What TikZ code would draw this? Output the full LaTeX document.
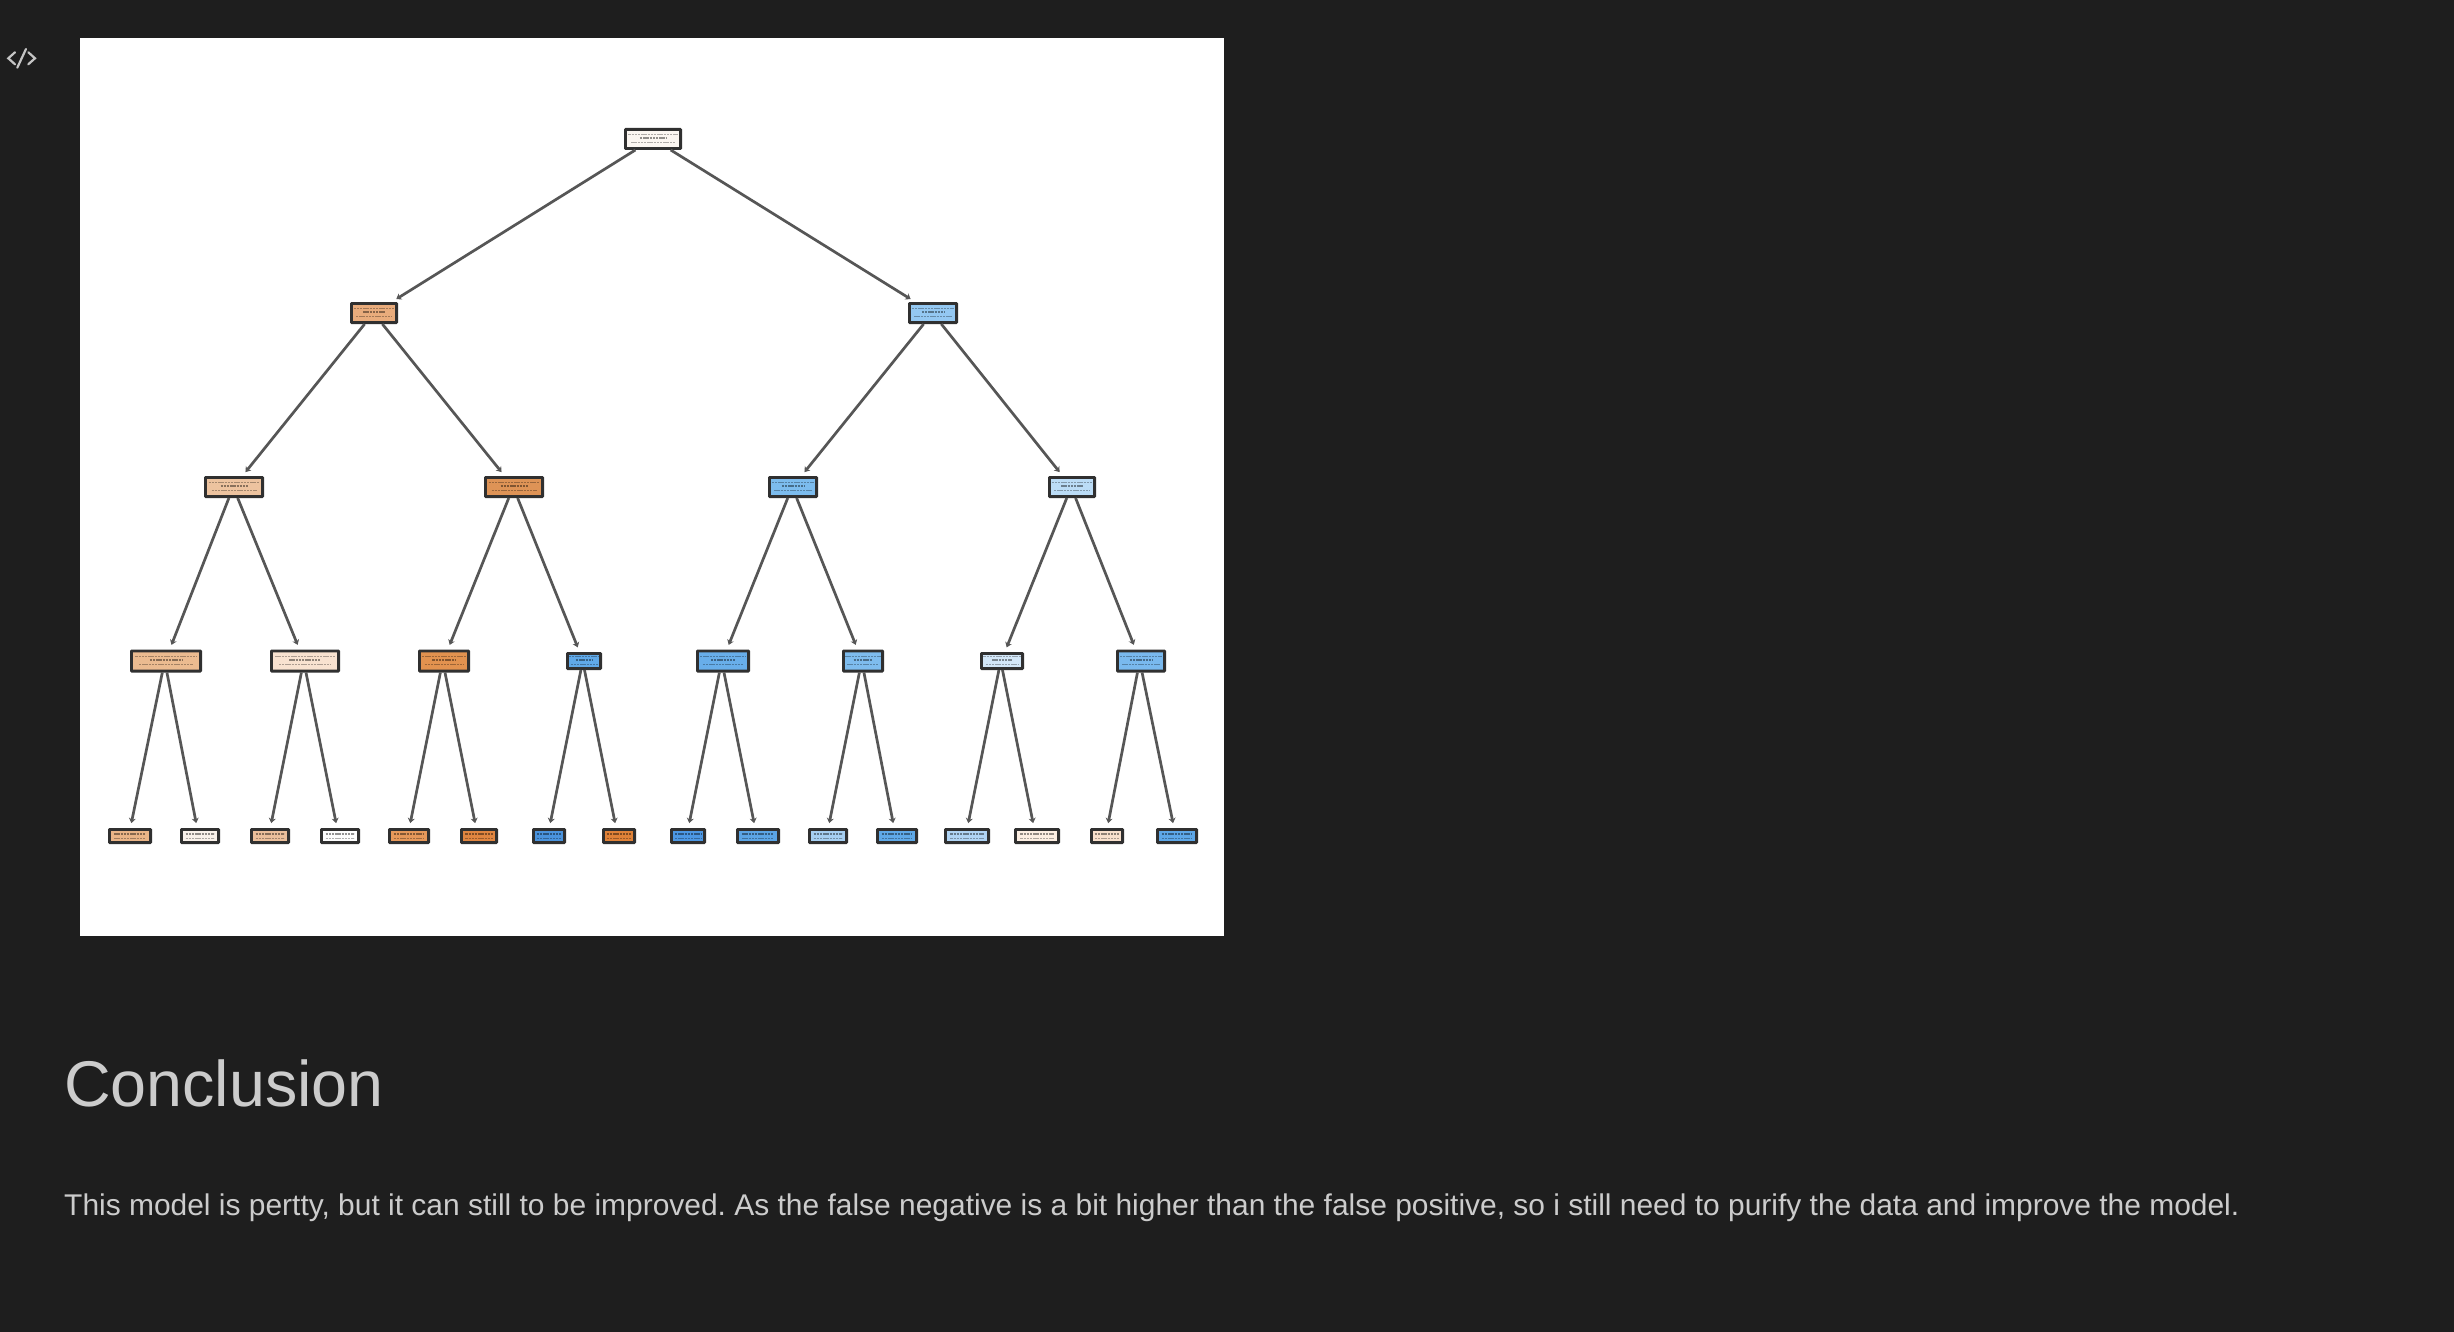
\documentclass[tikz,border=0pt]{standalone}
\usepackage{fontspec}
\setmainfont{Liberation Sans}
\usetikzlibrary{arrows.meta}
\definecolor{pagebg}{HTML}{1E1E1E}
\definecolor{headcol}{HTML}{CCCCCC}
\definecolor{bodycol}{HTML}{CCCCCC}
\definecolor{iconcol}{HTML}{C5C5C5}
\definecolor{linecol}{HTML}{565656}
\definecolor{boxline}{HTML}{303030}
\tikzset{
  treebox/.style={draw=boxline,line width=2.8pt,inner sep=0pt,rounded corners=0.6pt},
  ink/.style={draw=black,draw opacity=.3,line width=1.4pt,dash pattern=on 2.4pt off 0.8pt},
  inkdark/.style={draw=black,draw opacity=.42,line width=1.8pt,dash pattern=on 2.4pt off 0.8pt},
  treearrow/.style={draw=linecol,line width=2.7pt,-{Stealth[length=5pt,width=7pt]}},
  lvlone/.style={treearrow,shorten >=5.5pt},
  lvltwo/.style={treearrow,shorten >=5pt,transform canvas={xshift=-0.5pt}},
  lvlthree/.style={treearrow,shorten >=5pt,transform canvas={xshift=-0.8pt}},
  lvlfour/.style={treearrow,shorten >=5pt,transform canvas={xshift=-1.3pt}},
  iconline/.style={draw=iconcol,line width=2.2pt,line cap=round,line join=miter}
}
% name, x1, x2, cy, h, colour
\newcommand{\tnode}[6]{%
  \definecolor{c#1}{HTML}{#6}%
  \pgfmathsetmacro\bx{(#2+#3)/2}%
  \pgfmathsetmacro\bw{#3-#2-2.8}%
  \pgfmathsetmacro\bh{#5-2.8}%
  \pgfmathsetmacro\hw{(#3-#2)/2}%
  \node[treebox,fill=c#1,minimum width=\bw pt,minimum height=\bh pt] (#1) at (\bx,#4) {};
  \ifdim#5pt<17pt
    \draw[inkdark] (\bx-.72*\hw,#4-2.2) -- (\bx+.72*\hw,#4-2.2);
    \draw[ink] (\bx-.72*\hw,#4+2.4) -- (\bx+.72*\hw,#4+2.4);
  \else
    \draw[ink] (\bx-.85*\hw,#4-4.7) -- (\bx+.85*\hw,#4-4.7);
    \draw[inkdark] (\bx-.45*\hw,#4-1) -- (\bx+.45*\hw,#4-1);
    \draw[ink] (\bx-.75*\hw,#4+3.7) -- (\bx+.75*\hw,#4+3.7);
  \fi
}
\begin{document}
\begin{tikzpicture}[x=1pt,y=-1pt]
\useasboundingbox (0,0) rectangle (2454,1332);
\fill[pagebg] (0,0) rectangle (2454,1332);
\fill[white] (80,38) rectangle (1224,936);
% icon
\draw[iconline] (15,52.3) -- (8.3,58.3) -- (15,64.3);
\draw[iconline] (26,49) -- (17.3,67.7);
\draw[iconline] (28.3,52.3) -- (35,58.3) -- (28.3,64.3);
% tree nodes
\tnode{r}{624}{682}{139}{22}{FBF6F1}
\tnode{a}{350}{398}{313}{22}{E9AC7C}
\tnode{b}{908}{958}{313}{22}{94C8F2}
\tnode{aa}{204}{264}{487}{22}{EDC39F}
\tnode{ab}{484}{544}{487}{22}{DE9356}
\tnode{ba}{768}{818}{487}{22}{7CBCEE}
\tnode{bb}{1048}{1096}{487}{22}{BBDCF6}
\tnode{aaa}{130}{202}{661}{23}{EBBB90}
\tnode{aab}{270}{340}{661}{23}{F8E2D0}
\tnode{aba}{418}{470}{661}{23}{E2924F}
\tnode{abb}{566}{602}{661}{18}{60A9E8}
\tnode{baa}{696}{750}{661}{23}{68AEEA}
\tnode{bab}{842}{884}{661}{23}{7EBCEE}
\tnode{bba}{980}{1024}{661}{18}{D3E7F8}
\tnode{bbb}{1116}{1166}{661}{23}{79B9EE}
\tnode{l1}{108}{152}{836}{16}{E9B487}
\tnode{l2}{180}{220}{836}{16}{F9F1EA}
\tnode{l3}{250}{290}{836}{16}{EBBF9B}
\tnode{l4}{320}{360}{836}{16}{FDFDFD}
\tnode{l5}{388}{430}{836}{16}{E6985A}
\tnode{l6}{460}{498}{836}{16}{E08540}
\tnode{l7}{532}{566}{836}{16}{4A93DD}
\tnode{l8}{602}{636}{836}{16}{E08238}
\tnode{l9}{670}{706}{836}{16}{4C97E3}
\tnode{l10}{736}{780}{836}{16}{5BA5E6}
\tnode{l11}{808}{848}{836}{16}{A6CFF2}
\tnode{l12}{876}{918}{836}{16}{5FA9E8}
\tnode{l13}{944}{990}{836}{16}{B0D4F4}
\tnode{l14}{1014}{1060}{836}{16}{FCEEE2}
\tnode{l15}{1090}{1124}{836}{16}{F8E0CC}
\tnode{l16}{1156}{1198}{836}{16}{5DA7E8}
% connectors
\foreach \p/\c in {r/a,r/b}{\draw[lvlone] (\p) -- (\c);}
\foreach \p/\c in {a/aa,a/ab,b/ba,b/bb}{\draw[lvltwo] (\p) -- (\c);}
\foreach \p/\c in {aa/aaa,aa/aab,ab/aba,ab/abb,ba/baa,ba/bab,bb/bba,bb/bbb}{\draw[lvlthree] (\p) -- (\c);}
\foreach \p/\c in {aaa/l1,aaa/l2,aab/l3,aab/l4,aba/l5,aba/l6,abb/l7,abb/l8,baa/l9,baa/l10,bab/l11,bab/l12,bba/l13,bba/l14,bbb/l15,bbb/l16}{\draw[lvlfour] (\p) -- (\c);}
% text
\node[anchor=base west,inner sep=0pt,text=headcol,font=\fontsize{64.6}{70}\selectfont] (title) at (64,1106) {Conclusion};
\node[anchor=base west,inner sep=0pt,text=bodycol,font=\fontsize{29.95}{34}\selectfont\frenchspacing] (body) at (64,1215) {This model is pertty, but it can still to be improved. As the false negative is a bit higher than the false positive, so i still need to purify the data and improve the model.};
\end{tikzpicture}
\end{document}
